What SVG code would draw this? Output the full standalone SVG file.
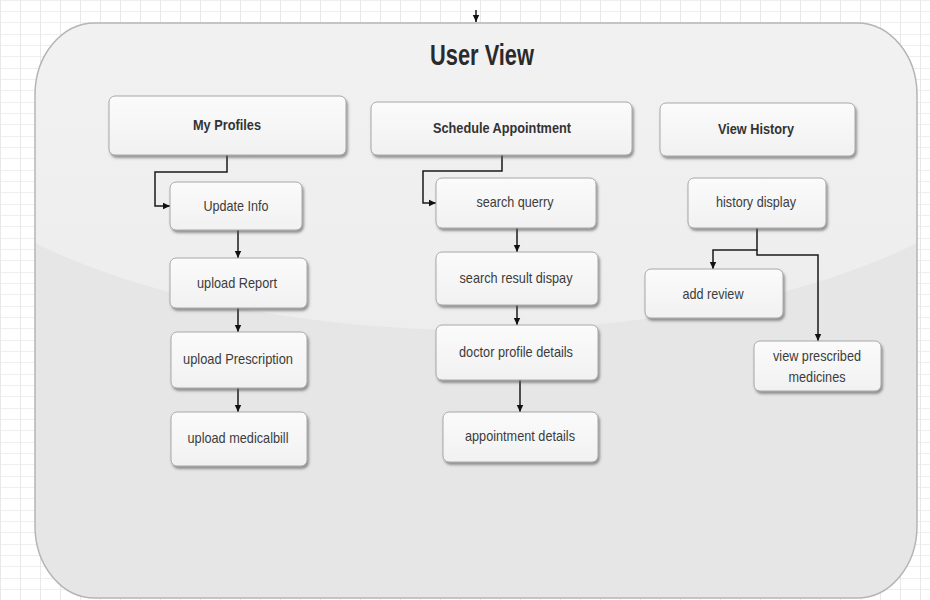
<svg xmlns="http://www.w3.org/2000/svg" width="930" height="600" viewBox="0 0 930 600">
<defs>
<pattern id="grid" width="40" height="34" patternUnits="userSpaceOnUse">
<rect width="40" height="34" fill="#ffffff"/>
<path d="M0 0.5H40M0 11.5H40M0 22.5H40" stroke="#efefef" stroke-width="1"/>
<path d="M0.5 0V34M20.5 0V34" stroke="#e8e8e8" stroke-width="1"/>
</pattern>
<linearGradient id="node" x1="0" y1="0" x2="0" y2="1">
<stop offset="0" stop-color="#fbfbfb"/>
<stop offset="1" stop-color="#f1f1f1"/>
</linearGradient>
<linearGradient id="gloss" x1="0" y1="0" x2="0" y2="1">
<stop offset="0" stop-color="#f5f5f5"/>
<stop offset="1" stop-color="#ededed"/>
</linearGradient>
<clipPath id="cclip"><rect x="35" y="23" width="882" height="575" rx="60" ry="72"/></clipPath>
<filter id="sh" x="-10%" y="-10%" width="130%" height="140%">
<feDropShadow dx="1.5" dy="2.5" stdDeviation="1" flood-color="#555" flood-opacity="0.6"/>
</filter>
<marker id="ah" markerWidth="8" markerHeight="8" refX="7" refY="4" orient="auto" markerUnits="userSpaceOnUse">
<path d="M0 0.8L7 4L0 7.2Z" fill="#111"/>
</marker>
<style>
.n rect{fill:url(#node);stroke:#a8a8a8;stroke-width:1;filter:url(#sh)}
.t{font-family:"Liberation Sans",Arial,sans-serif;font-size:15px;fill:#3c3c3c;text-anchor:middle}
.b{font-weight:bold;fill:#333}
.c path{fill:none;stroke:#1a1a1a;stroke-width:1.5;marker-end:url(#ah)}
</style>
</defs>
<rect width="930" height="600" fill="url(#grid)"/>
<g id="container">
<rect x="35" y="23" width="882" height="575" rx="60" ry="72" fill="#e6e6e6"/>
<ellipse cx="476" cy="60" rx="600" ry="270" fill="url(#gloss)" clip-path="url(#cclip)"/>
<rect x="35" y="23" width="882" height="575" rx="60" ry="72" fill="none" stroke="#b5b5b5" stroke-width="1.5"/>
<text x="482" y="65" class="t b" style="font-size:30px;fill:#2a2a2a" textLength="104" lengthAdjust="spacingAndGlyphs">User View</text>
</g>
<g class="c" id="connectors">
<path d="M476 10V22"/>
<path d="M227 155V172H155V206H170"/>
<path d="M502 155V171H423V203H436"/>
<path d="M238 230V258"/>
<path d="M238 308V332"/>
<path d="M238 388V412"/>
<path d="M517 228V252"/>
<path d="M517 305V325"/>
<path d="M520 380V412"/>
<path d="M757 228V250H713V269"/>
<path d="M757 250V255H818V341"/>
</g>
<g class="n" id="my-profiles"><rect x="109" y="96" width="237" height="59" rx="6"/><text x="227" y="130" class="t b" textLength="68" lengthAdjust="spacingAndGlyphs">My Profiles</text></g>
<g class="n" id="schedule-appointment"><rect x="371" y="102" width="261" height="53" rx="6"/><text x="502" y="133" class="t b" textLength="138" lengthAdjust="spacingAndGlyphs">Schedule Appointment</text></g>
<g class="n" id="view-history"><rect x="660" y="103" width="195" height="53" rx="6"/><text x="756" y="134" class="t b" textLength="76" lengthAdjust="spacingAndGlyphs">View History</text></g>
<g class="n" id="update-info"><rect x="170" y="182" width="132" height="48" rx="6"/><text x="236" y="211" class="t" textLength="65" lengthAdjust="spacingAndGlyphs">Update Info</text></g>
<g class="n" id="upload-report"><rect x="170" y="258" width="137" height="50" rx="6"/><text x="237" y="288" class="t" textLength="80" lengthAdjust="spacingAndGlyphs">upload Report</text></g>
<g class="n" id="upload-prescription"><rect x="171" y="332" width="136" height="56" rx="6"/><text x="238" y="364" class="t" textLength="110" lengthAdjust="spacingAndGlyphs">upload Prescription</text></g>
<g class="n" id="upload-medicalbill"><rect x="171" y="412" width="136" height="54" rx="6"/><text x="238" y="443" class="t" textLength="101" lengthAdjust="spacingAndGlyphs">upload medicalbill</text></g>
<g class="n" id="search-querry"><rect x="436" y="178" width="160" height="50" rx="6"/><text x="515" y="207" class="t" textLength="77" lengthAdjust="spacingAndGlyphs">search querry</text></g>
<g class="n" id="search-result"><rect x="436" y="252" width="162" height="53" rx="6"/><text x="516" y="283" class="t" textLength="113" lengthAdjust="spacingAndGlyphs">search result dispay</text></g>
<g class="n" id="doctor-profile"><rect x="436" y="325" width="162" height="55" rx="6"/><text x="516" y="357" class="t" textLength="114" lengthAdjust="spacingAndGlyphs">doctor profile details</text></g>
<g class="n" id="appointment-details"><rect x="443" y="412" width="155" height="50" rx="6"/><text x="520" y="441" class="t" textLength="110" lengthAdjust="spacingAndGlyphs">appointment details</text></g>
<g class="n" id="history-display"><rect x="688" y="178" width="138" height="50" rx="6"/><text x="756" y="207" class="t" textLength="80" lengthAdjust="spacingAndGlyphs">history display</text></g>
<g class="n" id="add-review"><rect x="645" y="269" width="138" height="49" rx="6"/><text x="713" y="299" class="t" textLength="61" lengthAdjust="spacingAndGlyphs">add review</text></g>
<g class="n" id="view-prescribed"><rect x="754" y="341" width="127" height="50" rx="6"/><text x="817" y="361" class="t" textLength="88" lengthAdjust="spacingAndGlyphs">view prescribed</text><text x="817" y="382" class="t" textLength="57" lengthAdjust="spacingAndGlyphs">medicines</text></g>
</svg>
